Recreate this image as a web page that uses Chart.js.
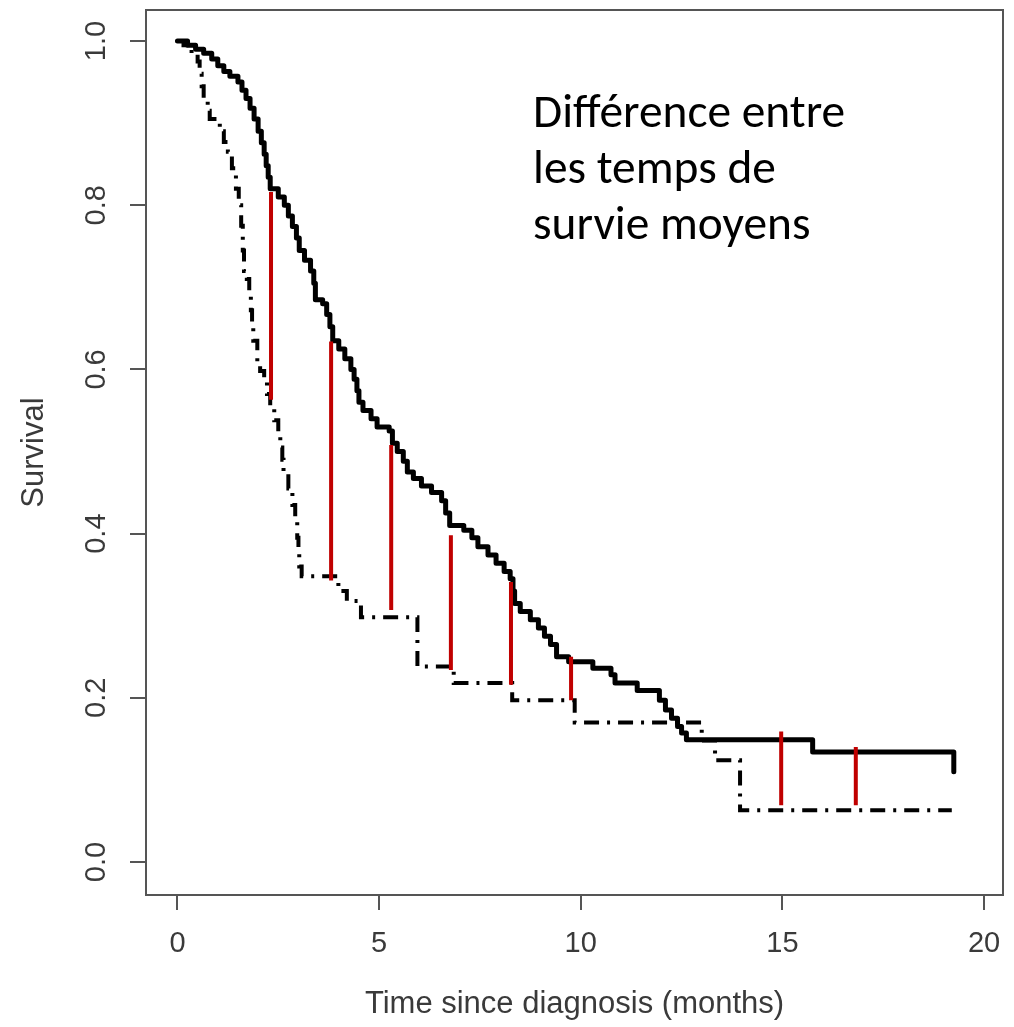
<!DOCTYPE html>
<html>
<head>
<meta charset="utf-8">
<script src="https://cdn.jsdelivr.net/npm/chart.js"></script>
<style>
  html, body { margin: 0; padding: 0; background: #fff; }
  canvas { display: block; }
</style>
</head>
<body>
<canvas id="km" width="1014" height="1027"></canvas>
<script>
// Kaplan-Meier curve, group A (solid): event times in months / survival after each event
const timesA = [0, 0.25, 0.45, 0.65, 0.85, 1.0, 1.15, 1.3, 1.5, 1.6,
  1.7, 1.8, 1.9, 2.0, 2.08, 2.15, 2.2, 2.25, 2.3, 2.5,
  2.65, 2.75, 2.85, 2.95, 3.02, 3.15, 3.3, 3.38, 3.42, 3.6,
  3.7, 3.78, 3.85, 4.0, 4.15, 4.3, 4.38, 4.45, 4.5, 4.6,
  4.8, 4.95, 5.25, 5.33, 5.45, 5.6, 5.7, 5.85, 6.05, 6.3,
  6.55, 6.65, 6.75, 7.1, 7.3, 7.45, 7.7, 7.9, 8.1, 8.25,
  8.32, 8.36, 8.5, 8.75, 8.95, 9.1, 9.25, 9.4, 9.7, 10.3,
  10.75, 10.85, 11.4, 11.95, 12.1, 12.25, 12.4, 12.5, 12.62, 15.75,
  19.25];
const survA = [1.0, 0.995, 0.99, 0.985, 0.978, 0.97, 0.963, 0.957, 0.95, 0.94,
  0.93, 0.918, 0.905, 0.89, 0.876, 0.862, 0.848, 0.834, 0.82, 0.81,
  0.80, 0.787, 0.774, 0.76, 0.745, 0.733, 0.72, 0.705, 0.685, 0.68,
  0.667, 0.652, 0.635, 0.625, 0.613, 0.60, 0.588, 0.574, 0.56, 0.55,
  0.54, 0.53, 0.525, 0.51, 0.50, 0.488, 0.475, 0.467, 0.458, 0.45,
  0.44, 0.425, 0.41, 0.404, 0.395, 0.384, 0.374, 0.364, 0.354, 0.345,
  0.33, 0.315, 0.305, 0.295, 0.285, 0.275, 0.265, 0.25, 0.244, 0.236,
  0.228, 0.218, 0.209, 0.197, 0.185, 0.175, 0.165, 0.157, 0.149, 0.134,
  0.11];

// group B (dot-dash)
const timesB = [0, 0.15, 0.35, 0.5, 0.55, 0.6, 0.65, 0.75, 0.8, 1.05,
  1.15, 1.25, 1.35, 1.45, 1.52, 1.58, 1.62, 1.65, 1.72, 1.78,
  1.82, 1.85, 1.88, 1.98, 2.05, 2.15, 2.22, 2.3, 2.4, 2.5,
  2.55, 2.6, 2.63, 2.75, 2.85, 2.92, 2.97, 3.0, 3.02, 3.08,
  3.99, 4.2, 4.55, 5.95, 6.85, 8.3, 9.85, 13.0, 13.33, 13.95,
  19.2];
const survB = [1.0, 0.995, 0.985, 0.975, 0.96, 0.945, 0.93, 0.915, 0.905, 0.89,
  0.877, 0.865, 0.845, 0.82, 0.80, 0.775, 0.745, 0.72, 0.71, 0.69,
  0.672, 0.655, 0.635, 0.61, 0.598, 0.585, 0.57, 0.555, 0.538, 0.52,
  0.505, 0.49, 0.47, 0.455, 0.435, 0.415, 0.395, 0.375, 0.36, 0.348,
  0.33, 0.318, 0.298, 0.238, 0.218, 0.197, 0.17, 0.148, 0.124, 0.063,
  0.063];

// red bars showing the gap between the curves
const gapTimes = [2.32, 3.81, 5.30, 6.78, 8.27, 9.76, 14.97, 16.82];
const gapTop = [0.816, 0.634, 0.508, 0.398, 0.341, 0.250, 0.159, 0.140];
const gapBottom = [0.563, 0.343, 0.307, 0.234, 0.216, 0.197, 0.069, 0.069];

const xTicks = [0, 5, 10, 15, 20];
const yTicks = [0, 0.2, 0.4, 0.6, 0.8, 1.0];
const noteLines = ['Différence entre', 'les temps de', 'survie moyens'];

const toPoints = (ts, ss) => ts.map((t, i) => ({ x: t, y: ss[i] }));
const gapPoints = [];
gapTimes.forEach((t, i) => {
  gapPoints.push({ x: t, y: gapTop[i] }, { x: t, y: gapBottom[i] }, { x: t, y: null });
});

const axisGrey = '#555';
const labelGrey = '#3a3a3a';

// box around the plot + the annotation text
const framePlugin = {
  id: 'frame',
  afterDraw(chart) {
    const { ctx, chartArea: a } = chart;
    ctx.save();
    ctx.strokeStyle = axisGrey;
    ctx.lineWidth = 2;
    ctx.strokeRect(a.left, a.top, a.right - a.left, a.bottom - a.top);

    ctx.fillStyle = '#000';
    ctx.textBaseline = 'alphabetic';
    ctx.font = '100px Carlito, Lato, sans-serif';
    const w = ctx.measureText(noteLines[0]).width;
    const size = 100 * 312 / w;
    ctx.font = size.toFixed(1) + 'px Carlito, Lato, sans-serif';
    noteLines.forEach((s, i) => ctx.fillText(s, 533, 127 + i * 56));
    ctx.restore();
  }
};

new Chart(document.getElementById('km'), {
  type: 'line',
  data: {
    datasets: [
      { data: gapPoints, borderColor: '#c00000', borderWidth: 4, pointRadius: 0,
        spanGaps: false, borderCapStyle: 'butt', order: 0 },
      { data: toPoints(timesA, survA), borderColor: '#000', borderWidth: 5, stepped: true,
        pointRadius: 0, borderJoinStyle: 'round', borderCapStyle: 'round', order: 1 },
      { data: toPoints(timesB, survB), borderColor: '#000', borderWidth: 4, stepped: true,
        borderDash: [15, 8, 3, 8], pointRadius: 0, order: 2 }
    ]
  },
  options: {
    responsive: false,
    animation: false,
    devicePixelRatio: 1,
    layout: { padding: { left: 0, top: 10, right: 11, bottom: 0 } },
    plugins: { legend: { display: false }, tooltip: { enabled: false } },
    scales: {
      x: {
        type: 'linear',
        min: -0.78,
        max: 20.47,
        afterBuildTicks: s => { s.ticks = xTicks.map(v => ({ value: v })); },
        afterFit: s => { s.height = 132; s.paddingLeft = 0; s.paddingRight = 0; },
        grid: { drawOnChartArea: false, drawTicks: true, tickLength: 15, color: axisGrey, lineWidth: 2 },
        border: { display: true, color: axisGrey, width: 2 },
        ticks: { color: labelGrey, font: { family: 'Liberation Sans', size: 29 }, padding: 17,
          maxRotation: 0, autoSkip: false, callback: v => String(v) },
        title: { display: true, text: 'Time since diagnosis (months)', color: labelGrey,
          font: { family: 'Liberation Sans', size: 31 }, padding: { top: 0, bottom: 4 } }
      },
      y: {
        type: 'linear',
        min: -0.0402,
        max: 1.0378,
        afterBuildTicks: s => { s.ticks = yTicks.map(v => ({ value: v })); },
        afterFit: s => { s.width = 146; s.paddingTop = 0; s.paddingBottom = 0; },
        grid: { drawOnChartArea: false, drawTicks: true, tickLength: 16, color: axisGrey, lineWidth: 2 },
        border: { display: true, color: axisGrey, width: 2 },
        ticks: { color: labelGrey, font: { family: 'Liberation Sans', size: 29 }, padding: 13,
          minRotation: 90, maxRotation: 90, crossAlign: 'center', autoSkip: false,
          callback: v => v.toFixed(1) },
        title: { display: true, text: 'Survival', color: labelGrey,
          font: { family: 'Liberation Sans', size: 31 }, padding: { top: 16, bottom: 0 } }
      }
    }
  },
  plugins: [framePlugin]
});
</script>
</body>
</html>
